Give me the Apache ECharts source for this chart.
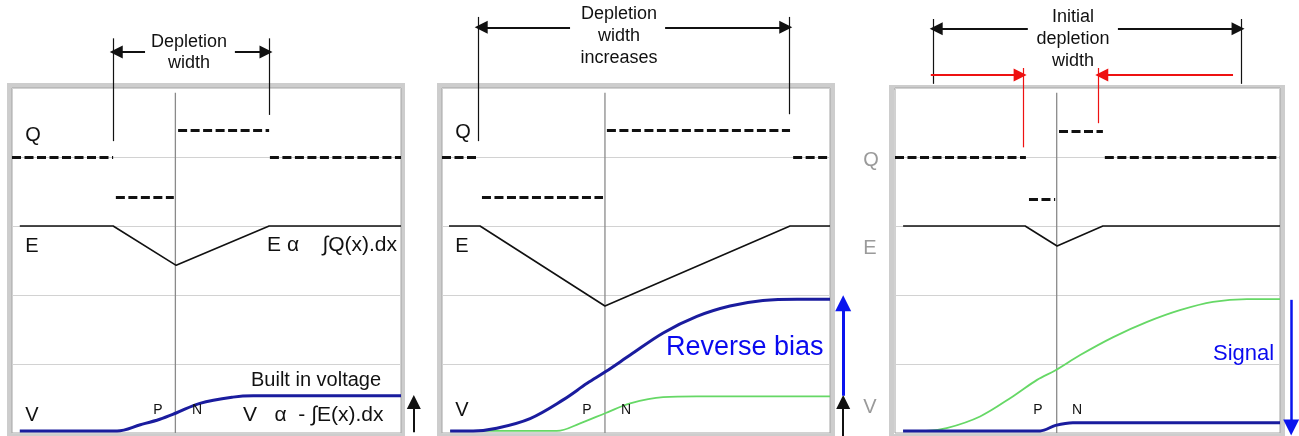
<!DOCTYPE html>
<html>
<head>
<meta charset="utf-8">
<script src="https://cdn.jsdelivr.net/npm/echarts@6/dist/echarts.min.js"></script>
<style>
  html, body { margin: 0; padding: 0; background: #fff; }
  #chart { width: 1299px; height: 436px; }
</style>
</head>
<body>
<div id="chart"></div>
<script>
// x: 0..100 across each panel (junction at 42), y: 0..5 (one band per gridline)
const junctionX = 42
const junctionTop = 4.93

// panel 1 - built in voltage
const qSegs1 = [[0, 26, 4.0], [26.7, 41.6, 3.41], [42.7, 66.1, 4.39], [66.3, 100, 4.0]]
const eLine1 = [[2, 3], [26, 3], [42.2, 2.43], [66.1, 3], [100, 3]]
const vBuilt1 = [[2, 0.03], [27, 0.03], [33, 0.12], [38, 0.2], [42.2, 0.29], [48.3, 0.43], [56.8, 0.52], [62, 0.54], [100, 0.54]]
const edges1 = [[26, 5.72, 4.23], [66.1, 5.72, 4.61]]
const arrows1 = [[34.2, 5.52, 26.8, 5.52], [57.3, 5.52, 65.3, 5.52]]
const upArrow1 = [[103.3, 0.01, 103.3, 0.45]]

// panel 2 - reverse bias
const qSegs2 = [[0, 9.5, 4.0], [10.3, 41.5, 3.41], [42.5, 89.7, 4.39], [90.5, 100, 4.0]]
const eLine2 = [[1.8, 3], [9.8, 3], [42, 1.84], [89.7, 3], [100, 3]]
const vBias2 = [[2.1, 0.03], [8, 0.03], [14.1, 0.07], [22.7, 0.21], [31.2, 0.48], [37.4, 0.72], [42.2, 0.89], [48.5, 1.13], [57, 1.45], [65.7, 1.69], [74.2, 1.84], [82.7, 1.92], [91.5, 1.94], [100, 1.94]]
const vBuilt2 = [[2.1, 0.03], [29.6, 0.03], [35.6, 0.14], [42.2, 0.29], [48.5, 0.43], [57, 0.52], [65.7, 0.53], [100, 0.53]]
const edges2 = [[9.3, 6.03, 4.23], [89.4, 6.03, 4.62]]
const arrows2 = [[33, 5.88, 10.1, 5.88], [57.5, 5.88, 88.6, 5.88]]
const upArrow2 = [[103.4, -0.05, 103.4, 0.45]]
const biasArrow2 = [[103.4, 0.54, 103.4, 1.88]]

// panel 3 - signal
const qSegs3 = [[0, 34, 4.0], [34.8, 41.6, 3.39], [42.6, 54, 4.38], [54.5, 100, 4.0]]
const eLine3 = [[2.1, 3], [33.8, 3], [42.1, 2.71], [54, 3], [100, 3]]
const vBias3 = [[2.1, 0.03], [8, 0.03], [13.4, 0.07], [22.1, 0.24], [30.6, 0.53], [36.9, 0.77], [41.7, 0.91], [48.1, 1.13], [56.7, 1.39], [65.5, 1.61], [74, 1.78], [82.6, 1.9], [91.4, 1.94], [100, 1.94]]
const vSignal3 = [[2.1, 0.03], [37.7, 0.03], [41.7, 0.11], [46.2, 0.15], [50.6, 0.15], [100, 0.15]]
const edges3 = [[9.9, 6.0, 5.06], [89.9, 6.0, 5.06]]
const arrows3 = [[34.5, 5.86, 10.7, 5.86], [57.9, 5.86, 89.1, 5.86]]
const redEdges3 = [[33.3, 5.29, 4.14], [52.9, 5.29, 4.49]]
const redArrows3 = [[9.3, 5.19, 32.5, 5.19], [87.8, 5.19, 53.7, 5.19]]
const downArrow3 = [[102.9, 1.93, 102.9, 0.08]]

const BLACK = '#111'
const BLUE = '#1a1c9e'
const GREEN = '#66d866'
const RED = '#ee1111'
const FONT = 'Liberation Sans, Arial, sans-serif'

const chart = echarts.init(document.getElementById('chart'))

const grids = [
  { left: 12, top: 88, width: 389, height: 345 },
  { left: 442, top: 88, width: 388, height: 345 },
  { left: 895, top: 88, width: 385, height: 345 }
].map(g => Object.assign({ show: true, borderColor: '#a4a4a4', borderWidth: 1, backgroundColor: '#fff' }, g))

const xAxes = grids.map((g, i) => ({ gridIndex: i, type: 'value', min: 0, max: 100, show: false }))
const yAxes = grids.map((g, i) => ({
  gridIndex: i, type: 'value', min: 0, max: 5, interval: 1,
  axisLine: { show: false }, axisTick: { show: false }, axisLabel: { show: false },
  splitLine: { lineStyle: { color: '#d2d2d2', width: 1 } }
}))

function segs (list, i, style, extra) {
  return Object.assign({
    type: 'lines', coordinateSystem: 'cartesian2d', xAxisIndex: i, yAxisIndex: i,
    clip: false, silent: true, symbol: 'none',
    lineStyle: style,
    data: list.map(s => ({ coords: [[s[0], s[1]], [s[2], s[3]]] }))
  }, extra || {})
}
function qLines (list, i) {
  return segs(list.map(s => [s[0], s[2], s[1], s[2]]), i, { color: BLACK, width: 3, type: [9, 3.5], opacity: 1 })
}
function vLines (list, i, color) {
  return segs(list.map(s => [s[0], s[1], s[0], s[2]]), i, { color: color, width: 1.2, opacity: 1 })
}
function arrows (list, i, color, width, size) {
  return segs(list, i, { color: color, width: width, opacity: 1 }, { symbol: ['none', 'triangle'], symbolSize: size })
}
function curve (data, i, color, width, smooth) {
  return {
    type: 'line', xAxisIndex: i, yAxisIndex: i, data: data, showSymbol: false, silent: true,
    smooth: smooth ? 0.35 : false, clip: false,
    lineStyle: { color: color, width: width }
  }
}
function junction (i) {
  return curve([[junctionX, 0], [junctionX, junctionTop]], i, '#8a8a8a', 1.3, false)
}

const series = [
  // panel 1
  junction(0),
  qLines(qSegs1, 0),
  curve(eLine1, 0, BLACK, 1.6, false),
  curve(vBuilt1, 0, BLUE, 3, true),
  vLines(edges1, 0, BLACK),
  arrows(arrows1, 0, BLACK, 2, [11, 13]),
  arrows(upArrow1, 0, BLACK, 2, [10, 14]),
  // panel 2
  junction(1),
  qLines(qSegs2, 1),
  curve(eLine2, 1, BLACK, 1.6, false),
  curve(vBuilt2, 1, GREEN, 1.8, true),
  curve(vBias2, 1, BLUE, 3, true),
  vLines(edges2, 1, BLACK),
  arrows(arrows2, 1, BLACK, 2, [11, 13]),
  arrows(upArrow2, 1, BLACK, 2, [10, 14]),
  arrows(biasArrow2, 1, '#0a14ee', 3, [12, 16]),
  // panel 3
  junction(2),
  qLines(qSegs3, 2),
  curve(eLine3, 2, BLACK, 1.6, false),
  curve(vBias3, 2, GREEN, 1.8, true),
  curve(vSignal3, 2, BLUE, 3, true),
  vLines(edges3, 2, BLACK),
  arrows(arrows3, 2, BLACK, 2, [11, 13]),
  vLines(redEdges3, 2, RED),
  arrows(redArrows3, 2, RED, 2, [11, 13]),
  arrows(downArrow3, 2, '#0a14ee', 2.5, [11, 16])
]

function txt (text, x, y, size, opts) {
  const o = opts || {}
  return {
    type: 'text', x: x, y: y, z: 10, silent: true,
    style: {
      text: text, font: (o.weight || 'normal') + ' ' + size + 'px ' + FONT,
      fill: o.color || BLACK, align: o.align || 'center', verticalAlign: 'middle'
    }
  }
}
function frame (x0, y0, x1, y1) {
  return {
    type: 'rect', z: -1, silent: true,
    shape: { x: x0 + 2.5, y: y0 + 2.5, width: x1 - x0 - 5, height: y1 - y0 - 5 },
    style: { fill: 'none', stroke: '#cdcdcd', lineWidth: 5 }
  }
}

const graphic = [
  frame(7, 83, 405, 439),
  frame(437, 83, 835, 439),
  frame(889, 85, 1285, 439),

  // panel 1 text
  txt('Depletion', 189, 42, 18),
  txt('width', 189, 63, 18),
  txt('Q', 33, 135, 20),
  txt('E', 32, 246, 20),
  txt('V', 32, 415, 20),
  txt('P', 158, 410, 14),
  txt('N', 197, 410, 14),
  txt('E α    ∫Q(x).dx', 397, 245, 21, { align: 'right' }),
  txt('Built in voltage', 251, 380, 20, { align: 'left' }),
  txt('V   α  - ∫E(x).dx', 243, 415, 21, { align: 'left' }),

  // panel 2 text
  txt('Depletion', 619, 14, 18),
  txt('width', 619, 36, 18),
  txt('increases', 619, 58, 18),
  txt('Q', 463, 132, 20),
  txt('E', 462, 246, 20),
  txt('V', 462, 410, 20),
  txt('P', 587, 410, 14),
  txt('N', 626, 410, 14),
  txt('Reverse bias', 666, 348, 27, { align: 'left', color: '#0a0aef' }),

  // panel 3 text
  txt('Initial', 1073, 17, 18),
  txt('depletion', 1073, 39, 18),
  txt('width', 1073, 61, 18),
  txt('Q', 871, 160, 20, { color: '#9a9a9a' }),
  txt('E', 870, 248, 20, { color: '#9a9a9a' }),
  txt('V', 870, 407, 20, { color: '#9a9a9a' }),
  txt('P', 1038, 410, 14),
  txt('N', 1077, 410, 14),
  txt('Signal', 1213, 354, 22, { align: 'left', color: '#0a0aef' })
]

chart.setOption({
  animation: false,
  backgroundColor: '#fff',
  grid: grids,
  xAxis: xAxes,
  yAxis: yAxes,
  series: series,
  graphic: graphic
})
</script>
</body>
</html>
